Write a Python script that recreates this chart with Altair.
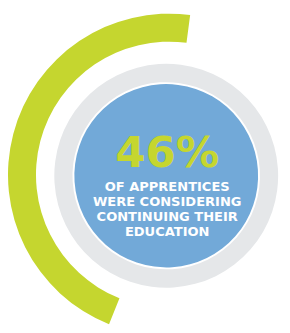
import math
import altair as alt
import pandas as pd

# ---- data ----
share_pct = [46]                      # share of apprentices
headline = ["46%"]
caption_lines = ["OF APPRENTICES", "WERE CONSIDERING", "CONTINUING THEIR", "EDUCATION"]

# layout (page pixel coordinates)
ring_center = [173, 175]
disc_center = [170, 176]
headline_y = [167]
caption_y = [192, 207.5, 223, 238.5]

GREEN = "#c5d62f"
BLUE = "#72a9d8"
GREY = "#e5e7e9"

W, H = 282, 317
ROT = math.radians(7.5)

xs = alt.Scale(domain=[8, 8 + W], range=[0, W], zero=False, nice=False)
ys = alt.Scale(domain=[8, 8 + H], range=[0, H], zero=False, nice=False)
ts = alt.Scale(domain=[0, 100], range=[ROT, ROT + 2 * math.pi])

arc_df = pd.DataFrame({
    "x": [ring_center[0]], "y": [ring_center[1]],
    "start": [100 - share_pct[0]], "end": [100],
})

def disc(r, color):
    df = pd.DataFrame({"x": [disc_center[0]], "y": [disc_center[1]],
                       "start": [0], "end": [100]})
    return alt.Chart(df).mark_arc(radius=r, radius2=0, color=color).encode(
        x=alt.X("x:Q", scale=xs, axis=None),
        y=alt.Y("y:Q", scale=ys, axis=None),
        theta=alt.Theta("start:Q", scale=ts),
        theta2="end:Q",
    )

green_arc = alt.Chart(arc_df).mark_arc(radius=167, radius2=138, color=GREEN).encode(
    x=alt.X("x:Q", scale=xs, axis=None),
    y=alt.Y("y:Q", scale=ys, axis=None),
    theta=alt.Theta("start:Q", scale=ts),
    theta2="end:Q",
)

head_df = pd.DataFrame({"t": headline, "x": [disc_center[0] + 1], "y": headline_y})
head = alt.Chart(head_df).mark_text(
    font="DejaVu Sans", fontWeight="bold", fontSize=45, color=GREEN,
    align="center", baseline="alphabetic",
).encode(
    x=alt.X("x:Q", scale=xs, axis=None),
    y=alt.Y("y:Q", scale=ys, axis=None),
    text="t:N",
)

cap_df = pd.DataFrame({"t": caption_lines, "x": [disc_center[0] + 1] * 4, "y": caption_y})
cap = alt.Chart(cap_df).mark_text(
    font="DejaVu Sans", fontWeight="bold", fontSize=13.5, color="white",
    align="center", baseline="alphabetic",
).encode(
    x=alt.X("x:Q", scale=xs, axis=None),
    y=alt.Y("y:Q", scale=ys, axis=None),
    text="t:N",
)

chart = alt.layer(
    green_arc,
    disc(116, GREY),
    disc(97, "white"),
    disc(95, BLUE),
    head,
    cap,
).properties(width=W, height=H, padding=0, background="white").configure_view(stroke=None)

chart.save("out.html", embed_options={"renderer": "svg", "actions": False})
